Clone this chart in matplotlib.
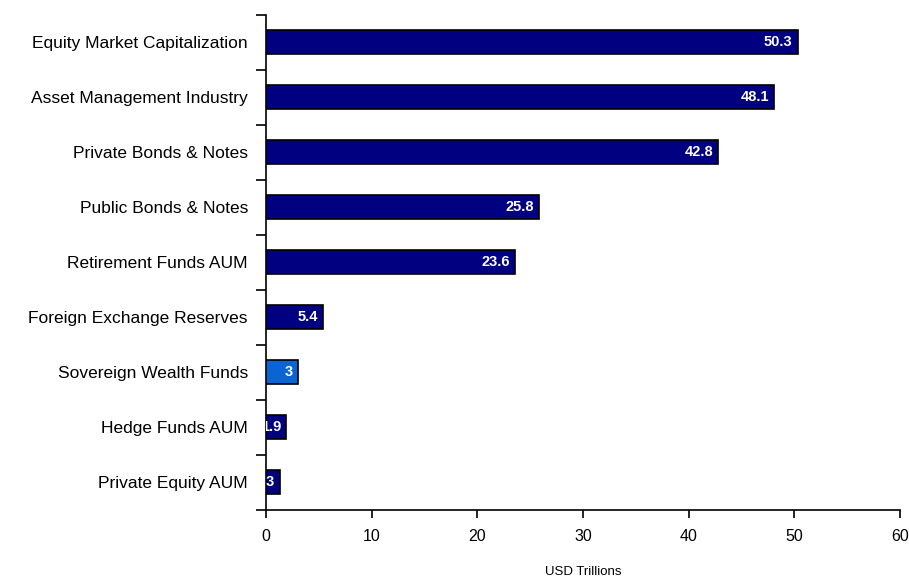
import matplotlib
matplotlib.use("Agg")
import matplotlib.pyplot as plt
import matplotlib.transforms as mtransforms

plt.rcParams['font.family'] = ['Liberation Sans', 'DejaVu Sans']

categories = [
    "Equity Market Capitalization",
    "Asset Management Industry",
    "Private Bonds & Notes",
    "Public Bonds & Notes",
    "Retirement Funds AUM",
    "Foreign Exchange Reserves",
    "Sovereign Wealth Funds",
    "Hedge Funds AUM",
    "Private Equity AUM",
]
values = [50.3, 48.1, 42.8, 25.8, 23.6, 5.4, 3.0, 1.9, 1.3]
value_labels = ["50.3", "48.1", "42.8", "25.8", "23.6", "5.4", "3", "1.9", "1.3"]
highlight = "Sovereign Wealth Funds"
x_ticks = [0, 10, 20, 30, 40, 50, 60]

navy = "#000080"
light = "#0A64D2"

fig = plt.figure(figsize=(9.09, 5.79), dpi=100)
ax = fig.add_axes([266/909, 1 - 509.5/579, (900-266)/909, (509.5-14.5)/579])

n = len(categories)
ypos = list(range(n))
colors = [light if c == highlight else navy for c in categories]
ax.barh(ypos, values, height=0.44, color=colors, edgecolor="black", linewidth=1.2, zorder=3)

ax.set_ylim(n - 0.5, -0.5)
ax.set_xlim(0, 60)
ax.set_xticks(x_ticks)
ax.set_xticklabels([str(t) for t in x_ticks], fontsize=11.5)
ax.tick_params(axis='x', direction='out', length=6, width=1.2, pad=8)

# y-axis: ticks at category boundaries, labels at centers
ax.set_yticks([i - 0.5 for i in range(n + 1)])
ax.set_yticklabels([])
ax.set_yticks(ypos, minor=True)
ax.set_yticklabels(categories, minor=True, fontsize=12.5)
ax.tick_params(axis='y', which='major', direction='out', length=7, width=1.2)
ax.tick_params(axis='y', which='minor', length=0, pad=13)

for s in ['top', 'right']:
    ax.spines[s].set_visible(False)
for s in ['left', 'bottom']:
    ax.spines[s].set_linewidth(1.2)

offset = mtransforms.offset_copy(ax.transData, fig=fig, x=-3.6, y=0, units='points')
for y, v, lab in zip(ypos, values, value_labels):
    ax.text(v, y, lab, transform=offset, ha='right', va='center', color='white',
            fontsize=10.5, fontweight='bold', zorder=4, clip_on=True)

ax.set_xlabel("USD Trillions", fontsize=9.5, labelpad=16)

fig.savefig("out.png", dpi=100)
